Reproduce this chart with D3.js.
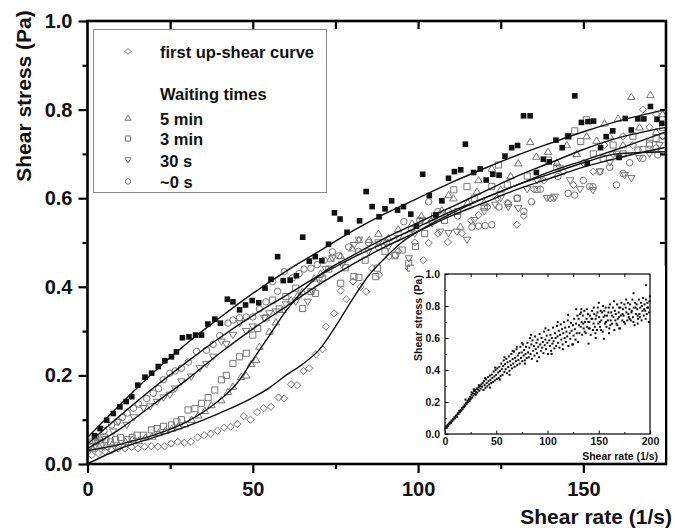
<!DOCTYPE html>
<html lang="en">
<head>
<meta charset="UTF-8">
<script src="https://cdn.jsdelivr.net/npm/d3@7"></script>
<title>Shear stress vs shear rate</title>
<style>
    body { margin: 0; background: #fff; }
    svg { display: block; font-family: "Liberation Sans", Arial, sans-serif; font-weight: bold; }
    .axis path, .axis line { stroke: #000; }
</style>
</head>
<body>
<script>
/*------------------------------------------------------*/
/*----------------------- data -------------------------*/
/*------------------------------------------------------*/
// filled squares (no legend entry)
const filledSquares = [[2.1,0.064],[3.8,0.08],[5.8,0.099],[7.8,0.114],[9.8,0.129],[11.7,0.141],[13.4,0.152],[15.2,0.178],[17.4,0.196],[19.4,0.205],[21.4,0.22],[23.4,0.233],[25.4,0.242],[26.9,0.253],[28.7,0.285],[30.7,0.287],[32.7,0.291],[34.5,0.291],[36.4,0.316],[38.5,0.327],[40.2,0.318],[42.3,0.372],[44,0.366],[46,0.348],[47.8,0.359],[49.8,0.369],[51.8,0.364],[53.7,0.397],[55.5,0.417],[57.5,0.468],[59.2,0.414],[61.3,0.415],[63.2,0.425],[65.1,0.512],[67.1,0.458],[68.9,0.468],[70.9,0.459],[72.9,0.496],[74.7,0.567],[76.4,0.553],[78.5,0.523],[82.3,0.549],[84.3,0.615],[86.1,0.581],[88.2,0.558],[90,0.576],[92,0.594],[93.8,0.573],[95.6,0.581],[97.8,0.564],[99.5,0.537],[101.4,0.654],[103.4,0.606],[105.4,0.562],[107.2,0.594],[109.2,0.645],[111,0.66],[112.9,0.664],[114.3,0.722],[116.8,0.658],[118.8,0.666],[120.6,0.641],[122.6,0.654],[124.5,0.652],[126.3,0.695],[128.3,0.714],[130.1,0.719],[131.9,0.786],[133.9,0.786],[135.8,0.658],[137.9,0.688],[139.7,0.682],[141.7,0.731],[143.6,0.714],[145.4,0.74],[147.4,0.831],[149.4,0.771],[151.2,0.679],[151.4,0.773],[153.1,0.774],[155.2,0.714],[156.9,0.739],[158.9,0.752],[160.8,0.692],[162.7,0.78],[164.5,0.754],[166.5,0.779],[168.3,0.779],[170.3,0.807],[172.3,0.778],[173.7,0.769]];

// first up-shear curve
const diamonds = [[1.3,0.02],[3.3,0.024],[5.3,0.028],[7.3,0.031],[9.3,0.035],[11.3,0.035],[13.3,0.039],[15.3,0.035],[17.3,0.039],[19.3,0.04],[21.3,0.039],[23.3,0.04],[25.3,0.046],[27.3,0.05],[29.3,0.048],[31.3,0.05],[33.3,0.06],[35.3,0.065],[37.3,0.068],[39.3,0.075],[41.3,0.082],[43.3,0.084],[45.3,0.09],[47.3,0.108],[49.3,0.1],[51.3,0.117],[53.3,0.126],[55.5,0.129],[57.8,0.15],[59.5,0.148],[61.6,0.18],[63.4,0.178],[65.3,0.21],[67.1,0.216],[69.1,0.248],[71.1,0.259],[72.1,0.31],[74.6,0.34],[76.6,0.391],[78.3,0.372],[80.3,0.412],[82.6,0.4],[84.3,0.389],[86.1,0.442],[88.2,0.427],[91.2,0.468],[94,0.48],[97.2,0.442],[99,0.5],[101.6,0.46],[103.2,0.499],[106,0.52],[109,0.501],[113.3,0.521],[116,0.55],[118.3,0.562],[121,0.58],[124,0.6],[127,0.59],[129.9,0.54],[132,0.56],[135,0.62],[138,0.64],[141,0.6],[144,0.66],[147,0.63],[150,0.68],[153,0.66],[156.4,0.72],[159,0.7],[162,0.74],[165,0.72],[168,0.8],[170,0.76],[172,0.79],[174,0.74]];

// waiting time 5 min
const triangles = [[1.5,0.035],[3.5,0.04],[5.5,0.038],[7.5,0.045],[9.5,0.042],[11.5,0.05],[13.5,0.055],[15.5,0.052],[17.5,0.06],[19.5,0.062],[21.5,0.07],[23.5,0.075],[25.5,0.08],[27.5,0.085],[29.5,0.09],[31.5,0.1],[33.5,0.11],[35.5,0.12],[37.5,0.133],[40.5,0.144],[42.5,0.163],[44,0.175],[46.5,0.197],[48,0.2],[49.5,0.226],[51,0.235],[52,0.265],[55,0.299],[57,0.32],[59,0.348],[61.6,0.37],[63.6,0.381],[65,0.389],[68.6,0.419],[70.5,0.43],[73.6,0.464],[76.6,0.47],[80.1,0.487],[82.1,0.506],[85.2,0.506],[88,0.52],[91,0.51],[94,0.53],[98.2,0.543],[101,0.56],[104,0.55],[107.2,0.573],[109.2,0.607],[110.7,0.6],[112.8,0.536],[115,0.59],[117.8,0.615],[118.3,0.641],[120,0.59],[122.3,0.667],[125,0.62],[128,0.65],[130.3,0.679],[133.9,0.727],[135.8,0.694],[139.3,0.705],[142,0.68],[145,0.72],[148,0.7],[151,0.74],[154,0.73],[156.4,0.769],[158,0.74],[160.5,0.78],[162,0.72],[164.5,0.829],[167,0.76],[170.3,0.833],[172,0.75],[174,0.79]];

// waiting time 3 min
const squares = [[1,0.04],[2.5,0.05],[4,0.045],[5.5,0.055],[7,0.05],[8.5,0.055],[10,0.06],[12,0.055],[13.5,0.06],[15,0.065],[17,0.065],[19.4,0.077],[21,0.08],[23,0.085],[25.4,0.088],[27,0.095],[28.4,0.1],[30.4,0.122],[32.5,0.125],[34.5,0.137],[36.5,0.15],[38.5,0.167],[40.5,0.19],[42,0.2],[44,0.227],[46,0.242],[48,0.25],[50,0.291],[51.5,0.306],[54,0.33],[56,0.37],[58,0.35],[60,0.378],[63,0.397],[65.1,0.351],[67.6,0.389],[69,0.385],[71,0.42],[73,0.44],[76.6,0.408],[78.1,0.443],[80.6,0.423],[82.1,0.421],[84,0.46],[87.2,0.423],[87.7,0.442],[90,0.48],[93,0.47],[95.2,0.483],[97.2,0.453],[97.7,0.442],[99.2,0.491],[102,0.52],[105,0.56],[108,0.55],[110.8,0.619],[112,0.57],[114.8,0.626],[117,0.6],[120,0.58],[122.3,0.626],[124.3,0.675],[127,0.63],[130,0.6],[133,0.65],[136,0.62],[139.4,0.686],[142,0.67],[145.4,0.739],[147.4,0.752],[149.2,0.728],[150.9,0.777],[153,0.7],[156,0.69],[159,0.72],[162,0.7],[165,0.74],[168,0.71],[170,0.724],[172,0.735],[174,0.76]];

// waiting time 30 s
const invTriangles = [[1,0.04],[3,0.05],[5,0.06],[7.8,0.073],[9.3,0.095],[11.9,0.088],[14,0.105],[16.9,0.126],[19,0.13],[21,0.14],[23,0.15],[24.9,0.156],[26.5,0.17],[28.4,0.186],[31.4,0.197],[34,0.216],[36,0.225],[38,0.242],[40.5,0.276],[42,0.27],[44,0.291],[46,0.318],[48,0.3],[50,0.31],[53.5,0.329],[55,0.34],[57,0.344],[60,0.36],[63,0.366],[66.6,0.366],[68,0.39],[70,0.415],[72,0.44],[74.1,0.464],[77,0.45],[80.6,0.494],[82.1,0.506],[85,0.48],[88,0.5],[91,0.49],[94,0.51],[97.2,0.464],[99,0.52],[101.2,0.55],[104.2,0.543],[106.7,0.524],[109.2,0.521],[111.7,0.524],[114.8,0.506],[117,0.55],[120,0.57],[123.3,0.585],[125,0.6],[127.3,0.58],[130.3,0.577],[133,0.62],[136,0.64],[139,0.6],[141.4,0.603],[142.9,0.667],[146,0.64],[149,0.62],[152.9,0.618],[155,0.66],[158,0.68],[160,0.7],[162.5,0.652],[164.5,0.645],[167,0.69],[170,0.7],[173,0.72]];

// waiting time ~0 s
const circles = [[1.3,0.05],[2.5,0.06],[3.8,0.054],[5,0.075],[7.3,0.088],[9,0.095],[10.5,0.105],[12,0.115],[13.9,0.126],[15.5,0.135],[17.9,0.148],[19.9,0.16],[21.5,0.17],[22.9,0.19],[24.9,0.205],[26.5,0.21],[28.4,0.216],[30.5,0.23],[33,0.254],[36,0.257],[38,0.27],[40,0.29],[42.5,0.318],[44,0.325],[46,0.33],[48,0.332],[50,0.332],[52,0.35],[54,0.366],[56,0.412],[57.5,0.39],[59.5,0.434],[62,0.42],[64,0.43],[65.5,0.44],[67.6,0.442],[69.5,0.45],[71.6,0.46],[74.1,0.479],[76,0.47],[79,0.49],[82,0.48],[85,0.5],[88,0.49],[90.5,0.5],[93.2,0.472],[95.7,0.547],[98,0.53],[100.5,0.55],[103.2,0.592],[106,0.57],[109.2,0.57],[112,0.56],[116.3,0.535],[118.3,0.537],[120.3,0.538],[122.3,0.54],[124.5,0.58],[127.3,0.588],[130,0.6],[132,0.57],[134.3,0.592],[137,0.62],[140,0.6],[142.3,0.649],[145.4,0.611],[147.4,0.607],[150,0.64],[151.9,0.626],[152.9,0.626],[155,0.66],[158,0.67],[160,0.63],[162,0.656],[164,0.68],[166.5,0.709],[168,0.69],[170,0.72],[172,0.713],[172.5,0.698],[174,0.74]];

// fitted curves
const fitFilled = [[0,0.06],[10,0.135],[20,0.207],[30,0.272],[40,0.33],[50,0.385],[60,0.435],[70,0.48],[80,0.525],[90,0.565],[100,0.6],[110,0.635],[120,0.667],[130,0.697],[140,0.724],[150,0.75],[160,0.773],[175,0.8]];
const fitCircles = [[0,0.045],[10,0.11],[20,0.172],[30,0.23],[40,0.285],[50,0.335],[60,0.38],[70,0.425],[80,0.465],[90,0.5],[100,0.535],[110,0.57],[120,0.6],[130,0.63],[140,0.66],[150,0.685],[160,0.71],[175,0.75]];
const fitInv = [[0,0.035],[10,0.08],[20,0.135],[30,0.19],[40,0.25],[50,0.305],[60,0.355],[70,0.405],[80,0.45],[90,0.49],[100,0.525],[110,0.56],[120,0.59],[130,0.62],[140,0.645],[150,0.67],[160,0.69],[175,0.715]];
const fitWaiting = [[0,0.03],[10,0.045],[20,0.065],[30,0.095],[40,0.145],[45,0.18],[50,0.235],[55,0.29],[60,0.345],[65,0.39],[70,0.425],[80,0.47],[90,0.51],[100,0.545],[110,0.58],[120,0.615],[130,0.65],[140,0.68],[150,0.71],[160,0.735],[175,0.76]];
const fitFirst = [[0,0],[10,0.035],[20,0.06],[30,0.085],[40,0.115],[50,0.15],[55,0.172],[60,0.2],[65,0.225],[70,0.257],[75,0.31],[80,0.37],[85,0.425],[90,0.465],[95,0.5],[100,0.525],[110,0.565],[120,0.6],[130,0.63],[140,0.655],[150,0.68],[160,0.7],[175,0.705]];

// inset: all data together
const insetPoints = [
    [0.5,0.035],[1.2,0.048],[1.8,0.04],[2.6,0.057],[3.1,0.05],[3.9,0.066],[4.4,0.06],[5.2,0.074],[5.9,0.07],[6.3,0.085],[7.1,0.08],[7.8,0.094],[8.4,0.09],[9.2,0.105],[9.7,0.098],[10.5,0.112],[11.3,0.12],[11.8,0.108],[12.6,0.13],[13.2,0.125],[13.9,0.143],[14.5,0.136],[15.3,0.15],[15.8,0.145],[16.6,0.163],[17.2,0.155],[17.9,0.172],[18.5,0.168],[19.2,0.183],[19.8,0.176],[20.6,0.195],[21.1,0.188],[21.9,0.208],[22.4,0.2],[23.2,0.22],[23.7,0.212],[24.5,0.232],[25.1,0.218],[25.8,0.245],[26.4,0.228],[27.1,0.255],[27.7,0.24],[28.4,0.268],[29,0.25],[29.6,0.275],[30.3,0.262],[31,0.285],[31.5,0.258],[32.2,0.278],[32.9,0.292],[33.4,0.27],[34.1,0.3],[34.8,0.283],[35.5,0.31],
    [20,0.215],[24,0.205],[28,0.28],[30,0.245],[33,0.305],[26,0.26],
    [36.2,0.295],[36.8,0.318],[37.5,0.275],[38.1,0.33],[38.7,0.305],[39.4,0.288],[40,0.342],[40.6,0.318],[41.3,0.298],[41.9,0.355],[42.4,0.33],[43.1,0.31],[43.8,0.365],[44.3,0.338],[45,0.318],[45.6,0.372],[46.2,0.35],[46.9,0.325],[47.5,0.39],[48.1,0.36],[48.6,0.335],[49.3,0.4],[49.9,0.37],[50.5,0.343],[51.1,0.41],[51.8,0.385],[52.3,0.35],[53,0.42],[53.6,0.393],[54.2,0.362],[54.9,0.44],[55.5,0.405],[56.1,0.37],[56.8,0.425],[57.3,0.46],[57.9,0.388],[58.6,0.437],[59.2,0.405],[59.8,0.47],[60.4,0.38],[61,0.448],[61.7,0.418],[62.3,0.485],[62.9,0.395],[63.5,0.455],[64.2,0.43],[64.8,0.5],[65.4,0.41],[66,0.468],[66.6,0.44],[67.3,0.515],[67.9,0.42],[68.5,0.475],[69.1,0.455],[69.8,0.53],[70.4,0.43],[71,0.49],[71.6,0.462],[72.3,0.505],[72.9,0.44],[73.5,0.545],[74.1,0.475],[74.8,0.51],[75.4,0.455],[76,0.56],[76.6,0.49],[77.2,0.525],[77.9,0.46],[78.5,0.5],[79.1,0.545],[79.7,0.475],
    [39,0.35],[44,0.29],[49,0.415],[53.5,0.34],[58,0.48],[63,0.37],[66,0.52],[70,0.545],[75,0.57],[78,0.44],
    [80.4,0.57],[81,0.51],[81.7,0.48],[82.3,0.54],[82.9,0.6],[83.5,0.5],[84.2,0.56],[84.8,0.47],[85.4,0.585],[86,0.52],[86.7,0.55],[87.3,0.49],[87.9,0.61],[88.5,0.53],[89.2,0.57],[89.8,0.505],[90.4,0.59],[91,0.545],[91.7,0.48],[92.3,0.625],[92.9,0.56],[93.5,0.52],[94.2,0.6],[94.8,0.54],[95.4,0.575],[96,0.505],[96.7,0.64],[97.3,0.555],[97.9,0.59],[98.5,0.53],[99.2,0.615],[99.8,0.57],[100.4,0.5],[101,0.65],[101.7,0.585],[102.3,0.55],[102.9,0.62],[103.5,0.52],[104.2,0.6],[104.8,0.565],[105.4,0.665],[106,0.58],[106.7,0.535],[107.3,0.63],[107.9,0.6],[108.5,0.55],[109.2,0.675],[109.8,0.61],[110.4,0.57],[111,0.645],[111.7,0.54],[112.3,0.62],[112.9,0.685],[113.5,0.59],[114.2,0.655],[114.8,0.56],[115.4,0.63],[116,0.7],[116.7,0.6],[117.3,0.665],[117.9,0.575],[118.5,0.64],[119.2,0.61],[119.8,0.71],[120.4,0.55],[121,0.67],[121.7,0.63],[122.3,0.595],[122.9,0.695],[123.5,0.645],[124.2,0.56],[124.8,0.68],[125.4,0.615],[126,0.72],[126.7,0.655],[127.3,0.59],[127.9,0.69],[128.5,0.63],[129.2,0.74],[129.8,0.575],
    [84,0.62],[90,0.455],[98,0.66],[104,0.5],[110,0.7],[115,0.53],[120,0.745],[125,0.56],[128,0.78],
    [130.4,0.72],[131.1,0.63],[131.9,0.75],[132.4,0.67],[133.2,0.7],[133.8,0.62],[134.5,0.74],[135.3,0.66],[135.9,0.77],[136.6,0.7],[137.2,0.63],[138.1,0.72],[138.7,0.67],[139.4,0.75],[140.2,0.66],[140.8,0.7],[141.5,0.74],[142.1,0.62],[142.9,0.72],[143.4,0.77],[144.3,0.65],[144.9,0.69],[145.6,0.75],[146.2,0.67],[147,0.72],[147.7,0.74],[148.3,0.65],[149.1,0.79],[149.6,0.69],[150.4,0.73],[151.2,0.67],[151.8,0.77],[152.5,0.71],[153.3,0.76],[153.9,0.64],[154.6,0.73],[155.4,0.77],[156,0.69],[156.8,0.79],[157.5,0.67],[158.1,0.74],[158.9,0.71],[159.4,0.76],[160.3,0.66],[160.9,0.81],[161.7,0.71],[162.2,0.76],[163,0.69],[163.8,0.79],[164.4,0.73],[165.2,0.65],[165.7,0.77],[166.6,0.75],[167.3,0.69],[167.9,0.81],[168.6,0.72],[169.4,0.76],[170,0.79],[170.8,0.66],[171.5,0.74],[172.1,0.82],[172.9,0.71],[173.6,0.78],[174.2,0.74],[175,0.81],[175.7,0.69],[176.3,0.79],[177.1,0.76],[177.8,0.71],[178.4,0.82],[179.2,0.73],[179.9,0.78],[180.6,0.81],[181.3,0.71],[181.9,0.76],[182.8,0.84],[183.4,0.73],[184.1,0.79],[184.9,0.68],[185.5,0.82],[186.2,0.75],[187,0.81],[187.6,0.78],[188.3,0.72],[189.1,0.84],[189.7,0.75],[190.5,0.79],[191.2,0.82],[191.8,0.71],[192.6,0.77],[193.3,0.85],[193.9,0.74],[194.7,0.81],[195.4,0.77],[196,0.84],[196.8,0.75],[197.5,0.82],[198.1,0.79],[198.9,0.7],[199.5,0.83],
    [130.8,0.68],[132.8,0.76],[134.9,0.69],[136.3,0.64],[138.4,0.78],[139.9,0.7],[141.2,0.66],[143.7,0.72],[145.2,0.79],[146.7,0.63],[148.7,0.76],[150.9,0.7],[152.2,0.65],[154.2,0.8],[155.9,0.74],[157.1,0.7],[159.8,0.79],[161.3,0.68],[162.8,0.74],[164.9,0.83],[166.2,0.71],[168.2,0.68],[169.8,0.73],[171.1,0.79],[173.2,0.75],[174.7,0.7],[176.8,0.84],[178.9,0.75],[180.2,0.72],[182.2,0.77],[183.8,0.7],[185.9,0.79],[188,0.74],[190.1,0.73],[192.2,0.8],[194.3,0.78],[195.8,0.72],[197.2,0.79],[199.2,0.76],[199.8,0.86],
    [133,0.78],[140,0.565],[147,0.6],[155,0.595],[160,0.63],[184,0.88],[196,0.93],[170,0.66],[188,0.69],[150,0.82]
];

// legend entries
const legendRows = [
    {label: "first up-shear curve", symbol: "diamond"},
    {label: "Waiting times", symbol: null},
    {label: "5 min", symbol: "triangle"},
    {label: "3 min", symbol: "square"},
    {label: "30 s", symbol: "invTriangle"},
    {label: "~0 s", symbol: "circle"}
];

/*------------------------------------------------------*/
/*---------------------- layout ------------------------*/
/*------------------------------------------------------*/
const W = 675, H = 528;
const x = d3.scaleLinear().domain([0, 175]).range([87.5, 666]);
const y = d3.scaleLinear().domain([0, 1]).range([464, 21]);
const xi = d3.scaleLinear().domain([0, 200]).range([445, 650]);
const yi = d3.scaleLinear().domain([0, 1]).range([434, 274]);

const svg = d3.select("body").append("svg")
    .attr("width", W)
    .attr("height", H);

// marker paths
function markerPath(type, r) {
    switch (type) {
        case "diamond": return `M0,${-r}L${r},0L0,${r}L${-r},0Z`;
        case "triangle": return `M0,${-r}L${r * 1.05},${r * 0.75}L${-r * 1.05},${r * 0.75}Z`;
        case "invTriangle": return `M0,${r}L${r * 1.05},${-r * 0.75}L${-r * 1.05},${-r * 0.75}Z`;
        case "square": return `M${-r * 0.85},${-r * 0.85}h${r * 1.7}v${r * 1.7}h${-r * 1.7}Z`;
        case "circle": return d3.arc()({innerRadius: 0, outerRadius: r * 0.9, startAngle: 0, endAngle: 2 * Math.PI});
    }
}

const grey = "#777";

function drawOpen(data, type) {
    svg.append("g").selectAll("path")
        .data(data)
        .enter()
        .append("path")
        .attr("transform", d => `translate(${x(d[0])},${y(d[1])})`)
        .attr("d", markerPath(type, 3.6))
        .attr("fill", "none")
        .attr("stroke", grey)
        .attr("stroke-width", 1);
}

drawOpen(diamonds, "diamond");
drawOpen(squares, "square");
drawOpen(triangles, "triangle");
drawOpen(invTriangles, "invTriangle");
drawOpen(circles, "circle");

svg.append("g").selectAll("rect")
    .data(filledSquares)
    .enter()
    .append("rect")
    .attr("x", d => x(d[0]) - 2.8)
    .attr("y", d => y(d[1]) - 2.8)
    .attr("width", 5.6)
    .attr("height", 5.6)
    .attr("fill", "#111");

/*------------------------------------------------------*/
/*---------------------- curves ------------------------*/
/*------------------------------------------------------*/
const line = d3.line()
    .x(d => x(d[0]))
    .y(d => y(d[1]))
    .curve(d3.curveMonotoneX);

[fitFilled, fitCircles, fitInv, fitWaiting, fitFirst].forEach(c => {
    svg.append("path")
        .attr("d", line(c))
        .attr("fill", "none")
        .attr("stroke", "#111")
        .attr("stroke-width", 1.4);
});

/*------------------------------------------------------*/
/*----------------------- axes -------------------------*/
/*------------------------------------------------------*/
const fmt = d3.format(".1f");

// left
svg.append("g").attr("class", "axis").attr("transform", "translate(87.5,0)")
    .call(d3.axisLeft(y).tickValues([0.1, 0.3, 0.5, 0.7, 0.9]).tickSize(5).tickFormat("").tickSizeOuter(0))
    .call(g => g.select(".domain").remove())
    .selectAll("line").attr("stroke-width", 2.2);
svg.append("g").attr("class", "axis").attr("transform", "translate(87.5,0)")
    .call(d3.axisLeft(y).tickValues([0, 0.2, 0.4, 0.6, 0.8, 1.0]).tickSize(9).tickPadding(6).tickFormat(fmt).tickSizeOuter(0))
    .call(g => g.select(".domain").remove())
    .call(g => g.selectAll("line").attr("stroke-width", 2.2))
    .selectAll("text").attr("font-size", 20).attr("font-family", "Liberation Sans, Arial, sans-serif").attr("font-weight", "bold").attr("fill", "#111");

// bottom
svg.append("g").attr("class", "axis").attr("transform", "translate(0,464)")
    .call(d3.axisBottom(x).tickValues([25, 75, 125]).tickSize(5).tickFormat("").tickSizeOuter(0))
    .call(g => g.select(".domain").remove())
    .selectAll("line").attr("stroke-width", 2.2);
svg.append("g").attr("class", "axis").attr("transform", "translate(0,464)")
    .call(d3.axisBottom(x).tickValues([0, 50, 100, 150]).tickSize(9).tickPadding(9).tickSizeOuter(0))
    .call(g => g.select(".domain").remove())
    .call(g => g.selectAll("line").attr("stroke-width", 2.2))
    .selectAll("text").attr("font-size", 20).attr("font-family", "Liberation Sans, Arial, sans-serif").attr("font-weight", "bold").attr("fill", "#111");

// top (inward)
svg.append("g").attr("class", "axis").attr("transform", "translate(0,21)")
    .call(d3.axisBottom(x).tickValues([25, 50, 75, 100, 125, 150]).tickSize(8).tickFormat("").tickSizeOuter(0))
    .call(g => g.select(".domain").remove())
    .selectAll("line").attr("stroke-width", 2.2);

// right (inward)
svg.append("g").attr("class", "axis").attr("transform", "translate(666,0)")
    .call(d3.axisLeft(y).tickValues([0.1, 0.2, 0.3, 0.4, 0.5, 0.6, 0.7, 0.8, 0.9]).tickSize(6).tickFormat("").tickSizeOuter(0))
    .call(g => g.select(".domain").remove())
    .selectAll("line").attr("stroke-width", 2.2);

// frame
svg.append("rect")
    .attr("x", x(0)).attr("y", y(1))
    .attr("width", x(175) - x(0)).attr("height", y(0) - y(1))
    .attr("fill", "none").attr("stroke", "#000").attr("stroke-width", 2.6);

// titles
svg.append("text")
    .attr("transform", "translate(31,96) rotate(-90)")
    .attr("text-anchor", "middle")
    .attr("font-size", 21).attr("fill", "#111")
    .text("Shear stress (Pa)");
svg.append("text")
    .attr("x", 672).attr("y", 524)
    .attr("text-anchor", "end")
    .attr("font-size", 21).attr("fill", "#111")
    .text("Shear rate (1/s)");

/*------------------------------------------------------*/
/*---------------------- legend ------------------------*/
/*------------------------------------------------------*/
svg.append("rect")
    .attr("x", 93.5).attr("y", 29.5)
    .attr("width", 233).attr("height", 163)
    .attr("fill", "#fff").attr("stroke", "#8a8a8a").attr("stroke-width", 1);

const legendY = [58, 100, 124.5, 145, 166.5, 188];
legendRows.forEach((row, i) => {
    svg.append("text")
        .attr("x", 160).attr("y", legendY[i])
        .attr("font-size", 16.5).attr("fill", "#111")
        .text(row.label);
    if (row.symbol) {
        svg.append("path")
            .attr("transform", `translate(128,${legendY[i] - 6.5})`)
            .attr("d", markerPath(row.symbol, 3))
            .attr("fill", "none")
            .attr("stroke", grey)
            .attr("stroke-width", 1);
    }
});

/*------------------------------------------------------*/
/*----------------------- inset ------------------------*/
/*------------------------------------------------------*/
svg.append("rect")
    .attr("x", 410).attr("y", 266)
    .attr("width", 255).attr("height", 196)
    .attr("fill", "#fff");

svg.append("g").selectAll("rect")
    .data(insetPoints)
    .enter()
    .append("rect")
    .attr("x", d => xi(d[0]) - 1)
    .attr("y", d => yi(d[1]) - 1)
    .attr("width", 2)
    .attr("height", 2)
    .attr("fill", "#111");

const insetFont = g => g.selectAll("text")
    .attr("font-size", 10.5).attr("font-family", "Liberation Sans, Arial, sans-serif")
    .attr("font-weight", "bold").attr("fill", "#111");

svg.append("g").attr("transform", "translate(0,434)")
    .call(d3.axisBottom(xi).tickValues([25, 75, 125, 175]).tickSize(-2).tickFormat("").tickSizeOuter(0))
    .call(g => g.select(".domain").remove());
svg.append("g").attr("transform", "translate(0,434)")
    .call(d3.axisBottom(xi).tickValues([0, 50, 100, 150, 200]).tickSize(-3.5).tickPadding(4).tickSizeOuter(0))
    .call(g => g.select(".domain").remove())
    .call(insetFont);
svg.append("g").attr("transform", "translate(0,274)")
    .call(d3.axisBottom(xi).tickValues([25, 50, 75, 100, 125, 150, 175]).tickSize(3).tickFormat("").tickSizeOuter(0))
    .call(g => g.select(".domain").remove());
svg.append("g").attr("transform", "translate(445,0)")
    .call(d3.axisLeft(yi).tickValues([0.1, 0.3, 0.5, 0.7, 0.9]).tickSize(-2).tickFormat("").tickSizeOuter(0))
    .call(g => g.select(".domain").remove());
svg.append("g").attr("transform", "translate(445,0)")
    .call(d3.axisLeft(yi).tickValues([0, 0.2, 0.4, 0.6, 0.8, 1.0]).tickSize(-3.5).tickPadding(5).tickFormat(fmt).tickSizeOuter(0))
    .call(g => g.select(".domain").remove())
    .call(insetFont);

svg.append("rect")
    .attr("x", xi(0)).attr("y", yi(1))
    .attr("width", xi(200) - xi(0)).attr("height", yi(0) - yi(1))
    .attr("fill", "none").attr("stroke", "#000").attr("stroke-width", 1.2);

svg.append("text")
    .attr("transform", "translate(422,318) rotate(-90)")
    .attr("text-anchor", "middle")
    .attr("font-size", 10.5).attr("fill", "#111")
    .text("Shear stress (Pa)");
svg.append("text")
    .attr("x", 658).attr("y", 460)
    .attr("text-anchor", "end")
    .attr("font-size", 10.5).attr("fill", "#111")
    .text("Shear rate (1/s)");
</script>
</body>
</html>
